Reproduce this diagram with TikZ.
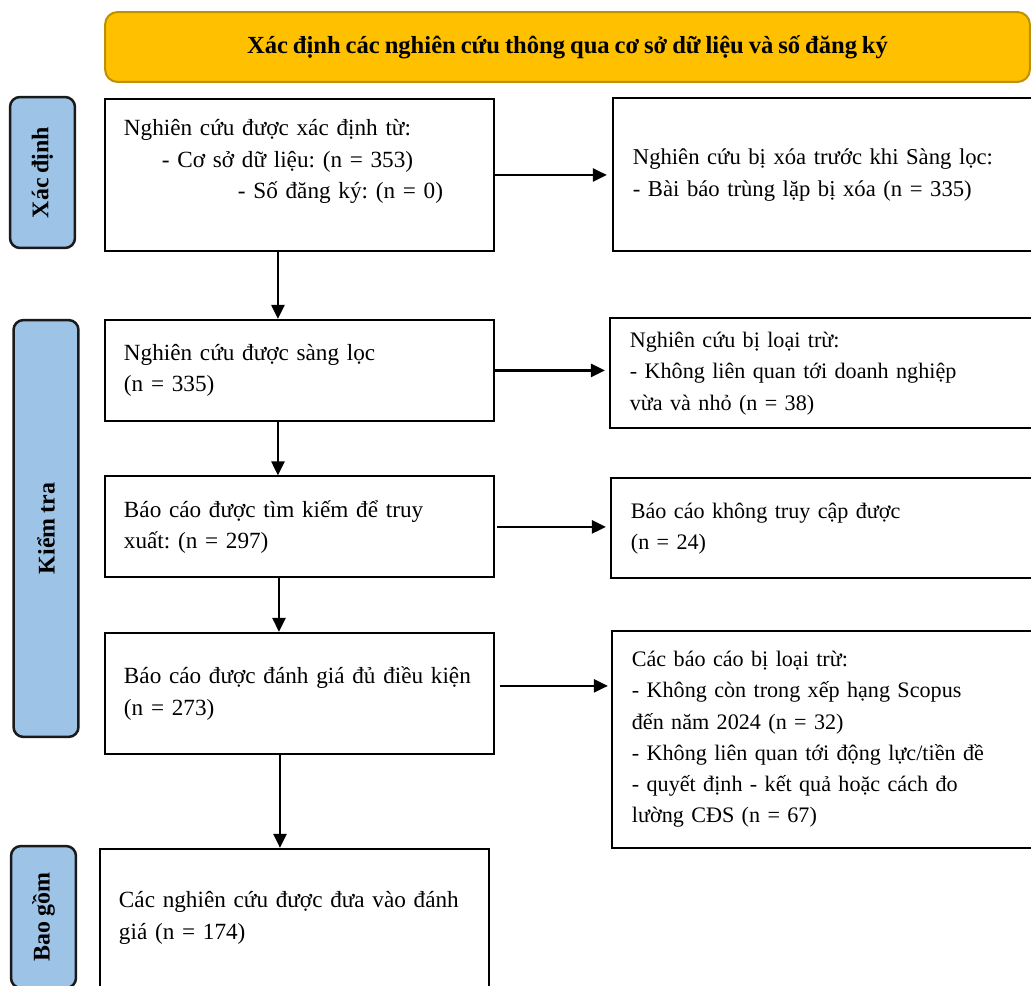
\documentclass[tikz,border=0pt]{standalone}
\usepackage{fontspec}
\setmainfont{Liberation Serif}[WordSpace=0.8]
\usetikzlibrary{arrows.meta,positioning}
\definecolor{bannerfill}{HTML}{FFC000}
\definecolor{bannerdraw}{HTML}{BF9000}
\definecolor{stagefill}{HTML}{9DC3E6}
\definecolor{stagedraw}{HTML}{1A1A1A}

\begin{document}
\frenchspacing
\begin{tikzpicture}[
  x=0.02cm, y=-0.02cm,
  node distance=1.07cm and 2.34cm,
  every node/.style={font=\fontsize{13.2}{18}\selectfont},
  banner/.style={draw=bannerdraw, fill=bannerfill, line width=0.04cm, rounded corners=0.25cm, minimum width=18.5cm, minimum height=1.4cm, font=\fontsize{14}{18}\selectfont\bfseries},
  stage/.style={draw=stagedraw, fill=stagefill, line width=0.05cm, rounded corners=0.2cm, rotate=90, minimum height=1.3cm, font=\fontsize{13.6}{18}\selectfont\bfseries},
  box/.style={draw, line width=0.04cm, align=left, text width=7.02cm, inner xsep=0.38cm},
  outbox/.style={draw, line width=0.04cm, align=left, text width=8.2cm, inner xsep=0.4cm, font=\fontsize{12.6}{17.8}\selectfont},
  arrow/.style={-{Triangle[length=0.28cm, width=0.26cm]}, line width=0.05cm}
]
\useasboundingbox (0,0) rectangle (1031,986);
\clip (0,0) rectangle (1031,986);

% phase labels
\node[banner] (title) at (567.5,47) {Xác định các nghiên cứu thông qua cơ sở dữ liệu và số đăng ký};
\node[stage, minimum width=3.02cm] (sid) at (42.5,172.5) {Xác định};
\node[stage, minimum width=8.34cm] (sscr) at (46,528.5) {Kiểm tra};
\node[stage, minimum width=2.84cm] (sinc) at (43.5,917) {Bao gồm};

% main column
\node[box, minimum height=3.04cm, anchor=north west] (ided) at (104,98) {Nghiên cứu được xác định từ:\\\hspace*{0.76cm}- Cơ sở dữ liệu: (n = 353)\\\hspace*{2.28cm}- Số đăng ký: (n = 0)\\\mbox{}};
\node[box, minimum height=2.02cm, below=1.34cm of ided] (scr) {Nghiên cứu được sàng lọc\\(n = 335)};
\node[box, minimum height=2.02cm, below=of scr] (retr) {Báo cáo được tìm kiếm để truy\\xuất: (n = 297)};
\node[box, minimum height=2.42cm, below=of retr] (elig) {Báo cáo được đánh giá đủ điều kiện\\(n = 273)};
\node[box, minimum height=2.76cm, below=1.86cm of elig, xshift=-0.1cm] (incl) {Các nghiên cứu được đưa vào đánh\\giá (n = 174)};

% exclusions
\node[outbox, minimum height=3.06cm, right=of ided, font=\fontsize{12.9}{17.8}\selectfont] (excl1) {Nghiên cứu bị xóa trước khi Sàng lọc:\\- Bài báo trùng lặp bị xóa (n = 335)};
\node[outbox, minimum height=2.2cm, right=2.28cm of scr, yshift=-0.06cm] (excl2) {Nghiên cứu bị loại trừ:\\- Không liên quan tới doanh nghiệp\\vừa và nhỏ (n = 38)};
\node[outbox, minimum height=2.0cm, right=2.3cm of retr, yshift=-0.03cm] (excl3) {Báo cáo không truy cập được\\(n = 24)};
\node[outbox, minimum height=4.34cm, right=2.32cm of elig, yshift=-0.92cm] (excl4) {Các báo cáo bị loại trừ:\\- Không còn trong xếp hạng Scopus\\đến năm 2024 (n = 32)\\- Không liên quan tới động lực/tiền đề\\- quyết định - kết quả hoặc cách đo\\lường CĐS (n = 67)};

\draw[arrow] ([xshift=-0.43cm]ided.south) -- ([xshift=-0.43cm]scr.north);
\draw[arrow] ([xshift=-0.43cm]scr.south) -- ([xshift=-0.43cm]retr.north);
\draw[arrow] ([xshift=-0.41cm]retr.south) -- ([xshift=-0.41cm]elig.north);
\draw[arrow] ([xshift=-0.39cm]elig.south) -- ([xshift=-0.29cm]incl.north);

\draw[arrow, shorten >=0.1cm] (ided.east) -- (ided.east -| excl1.west);
\draw[arrow, shorten >=0.08cm] (scr.east) -- (scr.east -| excl2.west);
\draw[arrow, shorten >=0.08cm, shorten <=0.04cm] (retr.east) -- (retr.east -| excl3.west);
\draw[arrow, shorten >=0.06cm, shorten <=0.1cm] ([yshift=0.15cm]elig.east) -- ([yshift=0.15cm]elig.east -| excl4.west);
\end{tikzpicture}
\end{document}
